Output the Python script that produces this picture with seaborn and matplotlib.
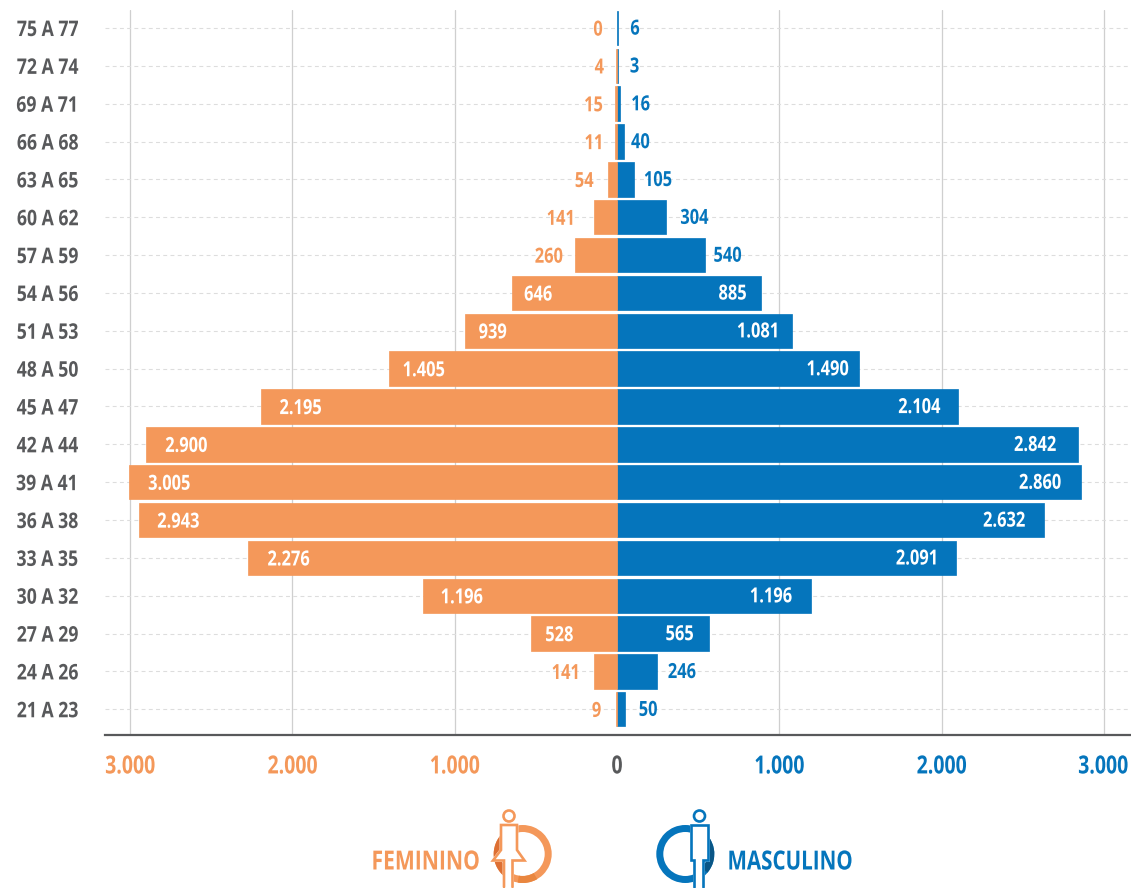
import numpy as np
import pandas as pd
import seaborn as sns
import matplotlib.pyplot as plt
from matplotlib.patches import Circle, Wedge, Polygon
from matplotlib.patheffects import AbstractPathEffect
from matplotlib.transforms import Affine2D, IdentityTransform, ScaledTranslation

faixas = ['75 A 77', '72 A 74', '69 A 71', '66 A 68', '63 A 65', '60 A 62', '57 A 59',
          '54 A 56', '51 A 53', '48 A 50', '45 A 47', '42 A 44', '39 A 41', '36 A 38',
          '33 A 35', '30 A 32', '27 A 29', '24 A 26', '21 A 23']
feminino = [0, 4, 15, 11, 54, 141, 260, 646, 939, 1405, 2195, 2900, 3005, 2943, 2276, 1196, 528, 141, 9]
masculino = [6, 3, 16, 40, 105, 304, 540, 885, 1081, 1490, 2104, 2842, 2860, 2632, 2091, 1196, 565, 246, 50]
ticks = [-3000, -2000, -1000, 0, 1000, 2000, 3000]
tick_labels = ['3.000', '2.000', '1.000', '0', '1.000', '2.000', '3.000']

LARANJA = '#F4985A'
AZUL = '#0575BC'
CINZA = '#58595B'
W, H = 1131, 888

# label centre distance from the bar end, px
off_f = [-19, -17, -21, -21, -24, -33, -26, 26, 28, 35, 40, 40, 40, 39, 41, 39, 28, -28, -19]
off_m = [17, 17, 21, 17, 24, 28, 23, -28, -34, -31, -39, -43, -41, -40, -39, -40, -29, 25, 23]


class Condensa(AbstractPathEffect):
    # the reference uses a condensed face, none installed, so squeeze the glyphs
    def __init__(self, fator, ancora='center'):
        super().__init__()
        self.fator = fator
        self.ancora = ancora

    def draw_path(self, renderer, gc, tpath, affine, rgbFace=None):
        p = affine.transform_path(tpath)
        x0, x1 = p.get_extents().intervalx
        cx = {'left': x0, 'right': x1, 'center': (x0 + x1) / 2}[self.ancora]
        tr = Affine2D().translate(-cx, 0).scale(self.fator, 1).translate(cx, 0)
        renderer.draw_path(gc, tr.transform_path(p), IdentityTransform(), rgbFace)


sns.set_theme(style='white')
plt.rcParams['font.family'] = ['Open Sans', 'DejaVu Sans']
plt.rcParams['font.weight'] = 'bold'

df = pd.DataFrame({'faixa': faixas, 'f': feminino, 'm': masculino})
df['f_neg'] = -df['f']

fig = plt.figure(figsize=(W / 100, H / 100), dpi=100)
ax = fig.add_axes([105 / W, 1 - 735 / H, 1025 / W, 725 / H])

# thin edge keeps the tiny bars of the top rows visible
sns.barplot(data=df, y='faixa', x='m', color=AZUL, saturation=1, width=0.91,
            edgecolor=AZUL, linewidth=0.5, ax=ax, zorder=3)
sns.barplot(data=df, y='faixa', x='f_neg', color=LARANJA, saturation=1, width=0.91,
            edgecolor=LARANJA, linewidth=0.5, ax=ax, zorder=3)
for p in ax.patches:
    if p.get_width() == 0:
        p.set_visible(False)

ax.set_xlim(-3155, 3161)
ax.set_ylim(18.68, -0.476)
ax.set_xlabel('')
ax.set_ylabel('')

sns.despine(ax=ax, left=True, top=True, right=True)
ax.spines['bottom'].set_color(CINZA)
ax.spines['bottom'].set_linewidth(1.6)

ax.set_axisbelow(True)
for t in ticks:
    if t != 0:
        ax.axvline(t, color='#CFCFCF', lw=0.9, zorder=1)
for i in range(len(faixas)):
    ax.axhline(i, color='#DDDDDD', lw=0.8, ls=(0, (3.5, 3)), zorder=1)

ax.set_xticks(ticks)
ax.set_xticklabels(tick_labels, fontsize=18, fontweight='bold')
ax.tick_params(axis='x', length=0, pad=14)
ax.tick_params(axis='y', length=0, pad=19, labelsize=15.5, labelcolor=CINZA)
for lab in ax.get_yticklabels():
    lab.set_fontweight('bold')
    lab.set_path_effects([Condensa(0.82, 'right')])
for t, lab in zip(ticks, ax.get_xticklabels()):
    lab.set_color(LARANJA if t < 0 else AZUL if t > 0 else CINZA)
    lab.set_path_effects([Condensa(0.78)])

# last tick label would run off the canvas before squeezing: anchor it by its right end
ultimo = ax.get_xticklabels()[-1]
ultimo.set_ha('right')
ultimo.set_path_effects([Condensa(0.78, 'right')])
ultimo.set_transform(ultimo.get_transform() + ScaledTranslation(0.245, 0, fig.dpi_scale_trans))

# value labels
for i, (f, m) in enumerate(zip(feminino, masculino)):
    a = ax.annotate(f'{f:,}'.replace(',', '.'), (-f, i), xytext=(off_f[i] * 0.72, -1.5), textcoords='offset points',
                    ha='center', va='center', fontsize=15, fontweight='bold',
                    color='white' if off_f[i] > 0 else LARANJA, zorder=5)
    b = ax.annotate(f'{m:,}'.replace(',', '.'), (m, i), xytext=(off_m[i] * 0.72, -0.8), textcoords='offset points',
                    ha='center', va='center', fontsize=15, fontweight='bold',
                    color='white' if off_m[i] < 0 else AZUL, zorder=5)
    a.set_path_effects([Condensa(0.79)])
    b.set_path_effects([Condensa(0.79)])

# legend icons, drawn in pixel coords
ov = fig.add_axes([0, 0, 1, 1], facecolor='none')
ov.set_xlim(0, W)
ov.set_ylim(H, 0)
ov.axis('off')


def cabeca(x, cor):
    ov.add_patch(Circle((x, 816), 5.5, fc='white', ec=cor, lw=1.9))


# feminino
ov.add_patch(Wedge((522.7, 854), 29, 0, 360, width=7, fc=LARANJA, ec='none'))
ov.add_patch(Wedge((522.7, 854), 29, 120, 240, width=7, fc='#DD6F33', ec='none'))
ov.add_patch(Wedge((522.7, 854), 29, 60, 100, width=7, fc='#E9863F', ec='none'))
ov.add_patch(Polygon([(501, 825), (517, 825), (517, 850), (524.5, 860.5), (512.5, 860.5),
                      (512.5, 887), (504, 887), (504, 860.5), (493, 860.5), (501, 850)],
                     closed=True, fc='white', ec='white', lw=2))
ov.plot([504, 504, 493, 501, 501, 517, 517, 524.5, 512.5, 512.5],
        [887, 860.5, 860.5, 850, 825, 825, 850, 860.5, 860.5, 887], color=LARANJA, lw=1.9, solid_joinstyle='miter')
cabeca(509, LARANJA)
ft = ov.text(371, 862, 'FEMININO', color=LARANJA, fontsize=19, fontweight='bold', ha='left', va='center')
ft.set_path_effects([Condensa(0.80, 'left')])

# masculino
ov.add_patch(Wedge((685.3, 854), 29, 0, 360, width=7, fc=AZUL, ec='none'))
ov.add_patch(Wedge((685.3, 854), 29, 300, 40, width=7, fc='#0A5686', ec='none'))
ov.add_patch(Polygon([(691, 825), (708, 825), (708, 860), (703, 860), (703, 887), (694, 887), (694, 860), (691, 860)],
                     closed=True, fc='white', ec='white', lw=2))
ov.plot([694, 694, 691, 691, 708, 708, 703, 703],
        [887, 860, 860, 825, 825, 860, 860, 887], color=AZUL, lw=1.9, solid_joinstyle='miter')
cabeca(699.5, AZUL)
mt = ov.text(727, 862, 'MASCULINO', color=AZUL, fontsize=19, fontweight='bold', ha='left', va='center')
mt.set_path_effects([Condensa(0.78, 'left')])

fig.savefig('out.png', dpi=100)
